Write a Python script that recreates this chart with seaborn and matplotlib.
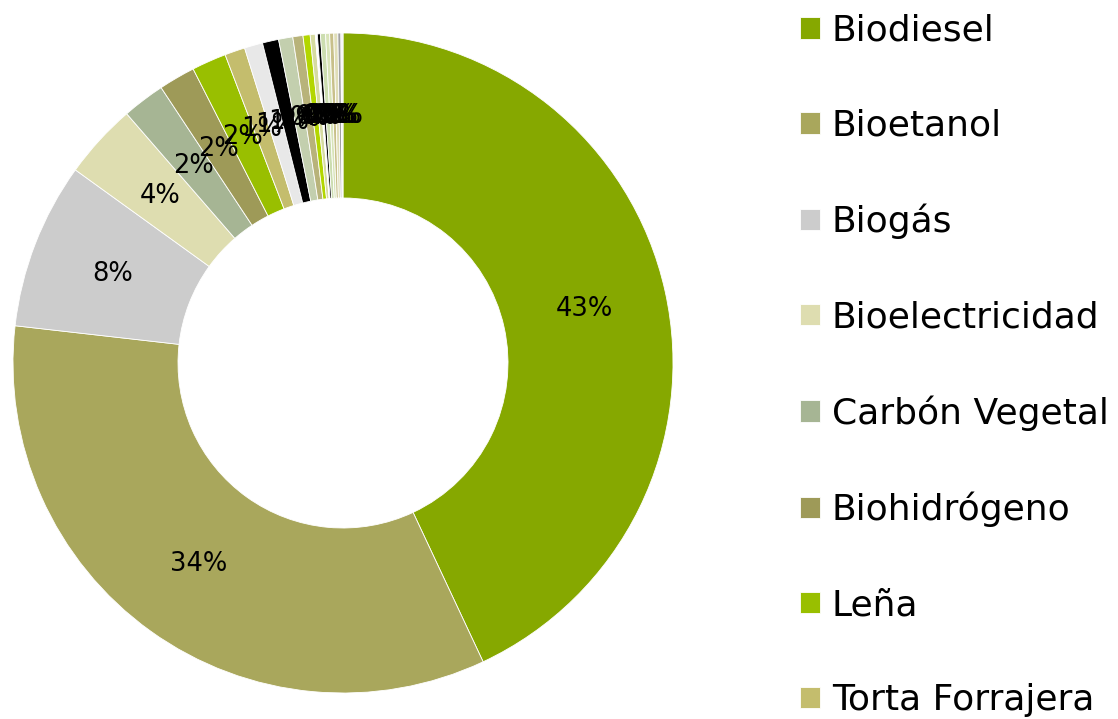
import matplotlib
matplotlib.use("Agg")
import matplotlib.pyplot as plt
import seaborn as sns

# categories (only the first 8 are visible in the legend of the original)
categories = ["Biodiesel", "Bioetanol", "Biogás", "Bioelectricidad", "Carbón Vegetal",
              "Biohidrógeno", "Leña", "Torta Forrajera", "Biomasa Sólida", "Bioaceite",
              "Pellets", "Briquetas", "Biometano", "Biofertilizantes", "Biochar",
              "Bioturbosina", "Compost", "Syngas", "Biogasolina", "Biolubricantes",
              "Bioplásticos", "Otros"]
shares = [43.3, 34.0, 8.2, 3.7, 2.1, 1.8, 1.7, 1.0, 0.9, 0.8,
          0.7, 0.5, 0.35, 0.25, 0.1, 0.15, 0.25, 0.2, 0.2, 0.2,
          0.15, 0.1]
colors = ["#86A800", "#A9A75C", "#CCCCCC", "#DEDDB0", "#A6B594",
          "#9E9A58", "#99BF00", "#C4BD6D", "#E8E8E8", "#000000",
          "#C3CFAE", "#B8B37A", "#B3D600", "#D6DBA0", "#FFFFFF",
          "#000000", "#CCDDB0", "#D8E4B8", "#C8C08A", "#E0DEB8",
          "#A0A0A0", "#F0F0F0"]

sns.set_theme(style="white")
plt.rcParams['font.family'] = ['DejaVu Sans']
palette = sns.color_palette(colors)

fig = plt.figure(figsize=(11.18, 7.19), dpi=100)
ax = fig.add_axes([13 / 1118, 26 / 719, 660 / 1118, 660 / 719])

wedges, texts, autotexts = ax.pie(
    shares, colors=palette, startangle=90, counterclock=False,
    autopct='%1.0f%%', pctdistance=0.75,
    wedgeprops=dict(width=0.5, edgecolor='white', linewidth=0.6),
    textprops=dict(fontsize=18.5, color='black'))
ax.set_xlim(-1, 1)
ax.set_ylim(-1, 1)
ax.set_aspect('equal')

fig.legend(wedges, categories, loc='upper left', bbox_to_anchor=(796 / 1118, 1 - 10 / 719),
           frameon=False, fontsize=26, labelcolor='black', handlelength=0.57, handleheight=0.55,
           handletextpad=0.32, labelspacing=1.69, borderaxespad=0.0, borderpad=0.1)

fig.savefig("out.png", dpi=100)
